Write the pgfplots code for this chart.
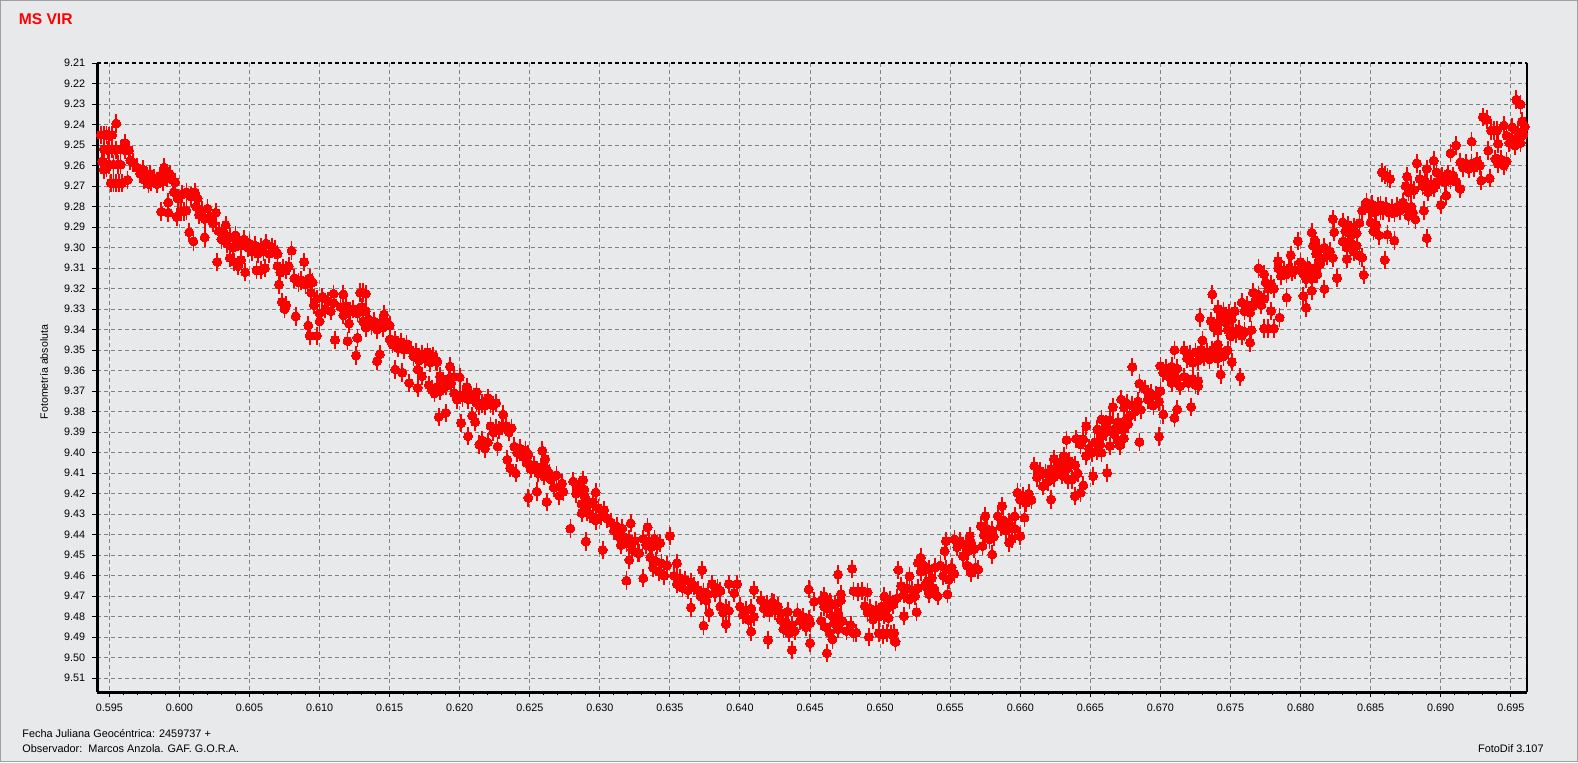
\documentclass[border=0pt]{standalone}
\usepackage{pgfplots}
\pgfplotsset{compat=1.18}
\usepackage{fontspec}
\setmainfont{Liberation Sans}
\definecolor{bgc}{RGB}{232,233,235}
\definecolor{gridc}{RGB}{128,128,128}
\definecolor{framec}{RGB}{160,160,160}
\begin{document}
\begin{tikzpicture}
\fill[bgc] (0pt,0pt) rectangle (789pt,381pt);
\draw[framec, line width=0.6pt] (0.3pt,0.3pt) rectangle (788.7pt,380.7pt);
\node[anchor=west, text=red, font=\fontsize{7.8}{9}\selectfont\bfseries, inner sep=0pt] at (9.2pt,371.4pt) {MS VIR};
\node[rotate=90, font=\fontsize{5.3}{6}\selectfont, inner sep=0pt] at (22pt,195pt) {Fotometría absoluta};
\node[anchor=west, font=\fontsize{5.45}{6}\selectfont, inner sep=0pt] at (11pt,14.3pt) {Fecha Juliana Geocéntrica: 2459737 +};
\node[anchor=west, font=\fontsize{5.45}{6}\selectfont, inner sep=0pt] at (11pt,6.5pt) {Observador:\ \ Marcos Anzola. GAF. G.O.R.A.};
\node[anchor=east, font=\fontsize{5.45}{6}\selectfont, inner sep=0pt] at (772pt,6.5pt) {FotoDif 3.107};
\begin{axis}[
  at={(48.65pt,35pt)}, anchor=south west,
  scale only axis, width=715pt, height=314.5pt,
  xmin=0.59414, xmax=0.69618, ymin=9.21, ymax=9.5167,
  y dir=reverse,
  axis line style={draw=none},
  xtick={0.595,0.600,0.605,0.610,0.615,0.620,0.625,0.630,0.635,0.640,0.645,0.650,0.655,0.660,0.665,0.670,0.675,0.680,0.685,0.690,0.695},
  ytick={9.21,9.22,9.23,9.24,9.25,9.26,9.27,9.28,9.29,9.30,9.31,9.32,9.33,9.34,9.35,9.36,9.37,9.38,9.39,9.40,9.41,9.42,9.43,9.44,9.45,9.46,9.47,9.48,9.49,9.50,9.51},
  minor x tick num=4,
  scaled x ticks=false, scaled y ticks=false,
  xtick pos=lower, ytick pos=left,
  tick align=outside,
  major tick length=2.5pt, minor tick length=1.5pt,
  tick style={black, line width=0.5pt},
  grid=major,
  major grid style={gridc, line width=0.5pt, dash pattern=on 2pt off 1.5pt},
  ticklabel style={font=\fontsize{5.4}{6}\selectfont},
  /pgf/number format/assume math mode=true,
  xticklabel style={/pgf/number format/fixed, /pgf/number format/fixed zerofill, /pgf/number format/precision=3},
  yticklabel style={/pgf/number format/fixed, /pgf/number format/fixed zerofill, /pgf/number format/precision=2},
  clip=false,
]
\addplot[only marks, mark=*, mark size=2.25pt, color=red, mark options={fill=red, draw=red, line width=0pt},
  error bars/.cd, y dir=both, y fixed=0.0045, error mark=none, error bar style={line width=0.9pt, red}]
table {
x y
0.5944 9.245
0.5946 9.245
0.5948 9.245
0.5950 9.2455
0.5952 9.245
0.5955 9.2395
0.5961 9.249
0.5945 9.258
0.5946 9.252
0.5949 9.2525
0.5952 9.252
0.5955 9.2525
0.5958 9.252
0.5961 9.2525
0.5964 9.2525
0.5946 9.262
0.5948 9.261
0.5950 9.2595
0.5953 9.2595
0.5956 9.2595
0.5958 9.2595
0.5951 9.2685
0.5953 9.2685
0.5955 9.2685
0.5957 9.2685
0.5959 9.2685
0.5963 9.267
0.5967 9.2585
0.5965 9.2575
0.5970 9.261
0.5972 9.264
0.5974 9.262
0.5975 9.267
0.5977 9.265
0.5978 9.269
0.5979 9.264
0.5980 9.268
0.5982 9.266
0.5984 9.269
0.5989 9.261
0.5986 9.265
0.5988 9.268
0.5991 9.266
0.5993 9.264
0.5995 9.267
0.5997 9.268
0.5987 9.2825
0.5992 9.278
0.5992 9.283
0.5998 9.285
0.5996 9.273
0.5999 9.276
0.6002 9.274
0.6005 9.273
0.6008 9.275
0.6011 9.273
0.6013 9.276
0.6001 9.2825
0.6003 9.2825
0.6005 9.282
0.6007 9.2925
0.6010 9.297
0.6012 9.280
0.6014 9.284
0.6016 9.282
0.6018 9.286
0.6020 9.281
0.6022 9.285
0.6024 9.288
0.6026 9.283
0.6018 9.295
0.6027 9.307
0.6028 9.292
0.6030 9.296
0.6032 9.293
0.6034 9.298
0.6036 9.295
0.6038 9.300
0.6040 9.294
0.6042 9.297
0.6044 9.299
0.6046 9.296
0.6049 9.300
0.6033 9.289
0.6036 9.305
0.6039 9.307
0.6042 9.309
0.6044 9.306
0.6047 9.312
0.6050 9.298
0.6052 9.302
0.6054 9.299
0.6056 9.303
0.6058 9.300
0.6060 9.302
0.6062 9.298
0.6064 9.303
0.6066 9.300
0.6068 9.301
0.6070 9.303
0.6055 9.311
0.6058 9.311
0.6061 9.310
0.6071 9.318
0.6070 9.309
0.6072 9.312
0.6074 9.310
0.6076 9.311
0.6078 9.309
0.6080 9.3015
0.6073 9.3265
0.6075 9.330
0.6076 9.328
0.6083 9.3335
0.6082 9.315
0.6085 9.317
0.6087 9.316
0.6090 9.318
0.6093 9.315
0.6095 9.317
0.6089 9.307
0.6092 9.338
0.6093 9.343
0.6098 9.343
0.6094 9.322
0.6096 9.328
0.6098 9.325
0.6100 9.332
0.6102 9.324
0.6104 9.330
0.6106 9.326
0.6108 9.331
0.6110 9.327
0.6100 9.336
0.6110 9.3225
0.6111 9.345
0.6117 9.3228
0.6115 9.329
0.6117 9.333
0.6119 9.3285
0.6121 9.337
0.6122 9.331
0.6129 9.322
0.6131 9.322
0.6133 9.3225
0.6124 9.330
0.6127 9.332
0.6130 9.329
0.6133 9.331
0.6120 9.3456
0.6126 9.3526
0.6127 9.344
0.6131 9.336
0.6133 9.339
0.6135 9.335
0.6137 9.338
0.6139 9.336
0.6141 9.340
0.6143 9.337
0.6145 9.339
0.6147 9.336
0.6150 9.338
0.6146 9.3326
0.6141 9.3554
0.6143 9.352
0.6150 9.3448
0.6152 9.347
0.6154 9.345
0.6156 9.349
0.6158 9.346
0.6160 9.3497
0.6162 9.347
0.6154 9.3594
0.6159 9.361
0.6164 9.366
0.6170 9.3684
0.6165 9.350
0.6167 9.353
0.6169 9.351
0.6171 9.355
0.6173 9.352
0.6175 9.354
0.6177 9.351
0.6179 9.356
0.6181 9.353
0.6183 9.355
0.6170 9.3594
0.6173 9.3627
0.6184 9.3557
0.6178 9.367
0.6180 9.369
0.6182 9.371
0.6184 9.368
0.6186 9.370
0.6186 9.3627
0.6188 9.365
0.6190 9.3676
0.6192 9.364
0.6194 9.366
0.6196 9.363
0.6193 9.358
0.6185 9.3826
0.6190 9.3806
0.6200 9.3632
0.6196 9.371
0.6198 9.374
0.6200 9.372
0.6202 9.373
0.6204 9.371
0.6206 9.374
0.6208 9.372
0.6210 9.373
0.6201 9.3855
0.6205 9.3679
0.6206 9.392
0.6212 9.3704
0.6209 9.382
0.6211 9.385
0.6212 9.3757
0.6214 9.377
0.6216 9.376
0.6218 9.377
0.6220 9.3733
0.6222 9.376
0.6224 9.377
0.6226 9.3757
0.6214 9.396
0.6216 9.394
0.6218 9.398
0.6220 9.395
0.6222 9.387
0.6224 9.390
0.6226 9.388
0.6228 9.389
0.6230 9.387
0.6231 9.3814
0.6227 9.397
0.6234 9.4034
0.6233 9.387
0.6235 9.390
0.6237 9.388
0.6236 9.4075
0.6239 9.397
0.6241 9.400
0.6243 9.398
0.6245 9.402
0.6247 9.399
0.6249 9.401
0.6240 9.410
0.6249 9.422
0.6255 9.419
0.6248 9.405
0.6251 9.408
0.6253 9.406
0.6256 9.410
0.6258 9.407
0.6260 9.4115
0.6262 9.408
0.6264 9.410
0.6259 9.399
0.6261 9.403
0.6262 9.424
0.6265 9.413
0.6267 9.417
0.6269 9.411
0.6271 9.421
0.6273 9.415
0.6274 9.419
0.6279 9.437
0.6281 9.414
0.6283 9.420
0.6285 9.417
0.6287 9.425
0.6289 9.421
0.6291 9.429
0.6290 9.4433
0.6288 9.4133
0.6289 9.418
0.6290 9.423
0.6297 9.4194
0.6287 9.4295
0.6291 9.426
0.6293 9.430
0.6295 9.424
0.6297 9.433
0.6299 9.427
0.6301 9.431
0.6303 9.428
0.6305 9.432
0.6302 9.4474
0.6308 9.434
0.6310 9.438
0.6312 9.436
0.6314 9.441
0.6316 9.437
0.6315 9.445
0.6322 9.4344
0.6317 9.441
0.6319 9.444
0.6321 9.442
0.6323 9.447
0.6325 9.443
0.6327 9.449
0.6319 9.4624
0.6321 9.4523
0.6328 9.449
0.6334 9.4363
0.6331 9.442
0.6333 9.445
0.6335 9.443
0.6337 9.446
0.6339 9.442
0.6341 9.445
0.6343 9.444
0.6331 9.4612
0.6336 9.451
0.6338 9.456
0.6340 9.453
0.6342 9.458
0.6344 9.454
0.6346 9.460
0.6348 9.455
0.6350 9.4406
0.6355 9.4539
0.6353 9.460
0.6355 9.464
0.6357 9.461
0.6359 9.466
0.6361 9.462
0.6363 9.467
0.6365 9.463
0.6367 9.465
0.6365 9.4755
0.6370 9.467
0.6372 9.470
0.6374 9.468
0.6376 9.472
0.6377 9.469
0.6373 9.4572
0.6374 9.4843
0.6378 9.478
0.6380 9.464
0.6382 9.4685
0.6384 9.466
0.6386 9.4675
0.6386 9.475
0.6388 9.478
0.6390 9.476
0.6392 9.477
0.6390 9.4835
0.6392 9.464
0.6398 9.464
0.6396 9.4685
0.6400 9.475
0.6402 9.479
0.6404 9.477
0.6406 9.4815
0.6408 9.476
0.6410 9.480
0.6410 9.467
0.6408 9.4872
0.6420 9.4913
0.6415 9.4718
0.6417 9.476
0.6419 9.474
0.6421 9.478
0.6423 9.473
0.6425 9.477
0.6427 9.475
0.6429 9.478
0.6424 9.4734
0.6429 9.4815
0.6431 9.486
0.6433 9.483
0.6435 9.488
0.6437 9.484
0.6439 9.487
0.6437 9.4962
0.6434 9.4775
0.6441 9.478
0.6443 9.482
0.6445 9.480
0.6447 9.485
0.6449 9.481
0.6450 9.483
0.6449 9.4666
0.6453 9.4726
0.6450 9.4929
0.6458 9.472
0.6460 9.475
0.6462 9.473
0.6465 9.474
0.6462 9.4978
0.6466 9.491
0.6470 9.4594
0.6480 9.4566
0.6460 9.470
0.6462 9.476
0.6464 9.473
0.6466 9.4797
0.6468 9.474
0.6470 9.478
0.6472 9.472
0.6458 9.482
0.6461 9.485
0.6464 9.488
0.6467 9.483
0.6470 9.486
0.6473 9.482
0.6476 9.487
0.6479 9.484
0.6481 9.488
0.6472 9.469
0.6481 9.4675
0.6484 9.468
0.6487 9.4675
0.6491 9.468
0.6483 9.4878
0.6492 9.4898
0.6489 9.4748
0.6491 9.478
0.6493 9.476
0.6495 9.4813
0.6497 9.477
0.6499 9.480
0.6501 9.475
0.6503 9.479
0.6505 9.476
0.6499 9.488
0.6502 9.4886
0.6505 9.488
0.6508 9.4886
0.6510 9.488
0.6511 9.4922
0.6506 9.4805
0.6503 9.470
0.6505 9.4748
0.6507 9.472
0.6509 9.474
0.6512 9.471
0.6513 9.4572
0.6515 9.465
0.6517 9.469
0.6519 9.466
0.6521 9.4715
0.6523 9.467
0.6525 9.470
0.6527 9.466
0.6521 9.4602
0.6517 9.4797
0.6526 9.4777
0.6529 9.4512
0.6527 9.4537
0.6529 9.458
0.6531 9.455
0.6533 9.4634
0.6535 9.457
0.6537 9.461
0.6539 9.456
0.6532 9.465
0.6535 9.469
0.6538 9.466
0.6541 9.470
0.6547 9.4431
0.6546 9.448
0.6548 9.469
0.6543 9.455
0.6545 9.460
0.6547 9.457
0.6549 9.462
0.6551 9.456
0.6553 9.459
0.6553 9.4423
0.6555 9.446
0.6557 9.443
0.6559 9.4504
0.6561 9.445
0.6563 9.448
0.6565 9.444
0.6567 9.447
0.6562 9.455
0.6565 9.4585
0.6568 9.456
0.6570 9.457
0.6564 9.4407
0.6572 9.4358
0.6574 9.440
0.6576 9.437
0.6578 9.4423
0.6580 9.438
0.6581 9.441
0.6573 9.4455
0.6575 9.4309
0.6580 9.4496
0.6587 9.426
0.6584 9.431
0.6586 9.436
0.6588 9.433
0.6590 9.438
0.6592 9.434
0.6594 9.442
0.6596 9.437
0.6592 9.4439
0.6596 9.431
0.6598 9.4195
0.6600 9.423
0.6602 9.421
0.6604 9.4245
0.6606 9.420
0.6608 9.423
0.6600 9.4407
0.6603 9.4317
0.6610 9.4065
0.6612 9.412
0.6614 9.409
0.6616 9.4163
0.6618 9.410
0.6620 9.414
0.6622 9.408
0.6624 9.412
0.6622 9.4228
0.6624 9.403
0.6626 9.408
0.6628 9.405
0.6630 9.411
0.6632 9.406
0.6634 9.413
0.6633 9.3938
0.6639 9.4211
0.6643 9.4195
0.6645 9.4159
0.6631 9.4016
0.6633 9.408
0.6635 9.404
0.6637 9.413
0.6639 9.406
0.6641 9.410
0.6652 9.4114
0.6662 9.4098
0.6640 9.3932
0.6647 9.387
0.6643 9.396
0.6645 9.3935
0.6647 9.4016
0.6649 9.398
0.6651 9.400
0.6653 9.395
0.6655 9.399
0.6657 9.396
0.6658 9.400
0.6655 9.3886
0.6658 9.392
0.6661 9.390
0.6664 9.3967
0.6667 9.391
0.6670 9.394
0.6673 9.389
0.6674 9.393
0.6658 9.3837
0.6661 9.386
0.6664 9.384
0.6667 9.3886
0.6670 9.385
0.6673 9.387
0.6676 9.384
0.6677 9.386
0.6671 9.3964
0.6680 9.3582
0.6685 9.3948
0.6666 9.3777
0.6672 9.374
0.6674 9.378
0.6676 9.376
0.6678 9.382
0.6680 9.377
0.6682 9.380
0.6684 9.375
0.6686 9.379
0.6685 9.3663
0.6689 9.369
0.6691 9.374
0.6693 9.371
0.6695 9.377
0.6697 9.372
0.6699 9.375
0.6700 9.370
0.6699 9.3922
0.6702 9.3813
0.6710 9.383
0.6712 9.3789
0.6700 9.3577
0.6702 9.361
0.6704 9.359
0.6706 9.3626
0.6708 9.358
0.6710 9.361
0.6712 9.359
0.6705 9.3626
0.6708 9.366
0.6711 9.364
0.6714 9.3675
0.6717 9.363
0.6720 9.366
0.6723 9.364
0.6725 9.367
0.6727 9.365
0.6722 9.3777
0.6710 9.350
0.6717 9.350
0.6719 9.354
0.6721 9.352
0.6723 9.3561
0.6725 9.351
0.6727 9.355
0.6727 9.3675
0.6729 9.350
0.6731 9.353
0.6733 9.351
0.6735 9.3545
0.6737 9.350
0.6739 9.352
0.6741 9.354
0.6743 9.351
0.6745 9.353
0.6748 9.350
0.6730 9.3452
0.6728 9.3341
0.6737 9.3228
0.6736 9.3358
0.6738 9.339
0.6740 9.337
0.6741 9.3406
0.6741 9.3472
0.6743 9.3618
0.6741 9.330
0.6743 9.334
0.6745 9.331
0.6747 9.3366
0.6749 9.332
0.6751 9.335
0.6753 9.331
0.6751 9.3558
0.6757 9.3631
0.6748 9.340
0.6750 9.343
0.6752 9.341
0.6754 9.342
0.6756 9.340
0.6758 9.343
0.6760 9.341
0.6758 9.3268
0.6760 9.331
0.6762 9.328
0.6764 9.3317
0.6765 9.329
0.6764 9.3463
0.6765 9.3402
0.6766 9.322
0.6768 9.326
0.6770 9.323
0.6772 9.328
0.6774 9.325
0.6770 9.3101
0.6774 9.313
0.6775 9.317
0.6777 9.320
0.6779 9.318
0.6781 9.320
0.6779 9.3309
0.6774 9.3395
0.6777 9.3395
0.6781 9.3395
0.6785 9.3341
0.6784 9.310
0.6786 9.3138
0.6788 9.311
0.6790 9.313
0.6792 9.310
0.6794 9.312
0.6796 9.311
0.6784 9.3065
0.6790 9.3244
0.6793 9.3037
0.6798 9.2968
0.6800 9.310
0.6802 9.313
0.6804 9.3154
0.6806 9.311
0.6808 9.314
0.6802 9.3236
0.6804 9.3293
0.6808 9.2927
0.6808 9.321
0.6817 9.3202
0.6800 9.307
0.6805 9.309
0.6808 9.3153
0.6810 9.310
0.6812 9.313
0.6814 9.308
0.6809 9.299
0.6811 9.303
0.6813 9.301
0.6815 9.3055
0.6817 9.300
0.6819 9.304
0.6821 9.302
0.6823 9.305
0.6810 9.2963
0.6826 9.3148
0.6845 9.3133
0.6823 9.286
0.6824 9.2925
0.6830 9.2877
0.6832 9.292
0.6834 9.289
0.6836 9.2941
0.6838 9.290
0.6840 9.293
0.6842 9.288
0.6833 9.3055
0.6830 9.297
0.6833 9.300
0.6836 9.298
0.6838 9.302
0.6840 9.299
0.6842 9.304
0.6844 9.3049
0.6844 9.282
0.6847 9.278
0.6849 9.281
0.6851 9.279
0.6853 9.2828
0.6855 9.280
0.6857 9.282
0.6850 9.2877
0.6852 9.292
0.6854 9.289
0.6856 9.294
0.6860 9.306
0.6862 9.2937
0.6867 9.2966
0.6858 9.2633
0.6860 9.2645
0.6862 9.2655
0.6864 9.2665
0.6857 9.2795
0.6859 9.282
0.6861 9.280
0.6863 9.2828
0.6865 9.281
0.6867 9.283
0.6869 9.280
0.6871 9.282
0.6873 9.278
0.6875 9.281
0.6877 9.2845
0.6879 9.280
0.6880 9.283
0.6876 9.2654
0.6875 9.270
0.6877 9.273
0.6879 9.271
0.6881 9.272
0.6883 9.2589
0.6882 9.2863
0.6890 9.2954
0.6888 9.282
0.6885 9.2665
0.6887 9.270
0.6889 9.268
0.6891 9.273
0.6893 9.269
0.6895 9.271
0.6897 9.268
0.6890 9.2616
0.6895 9.2576
0.6900 9.2792
0.6897 9.2633
0.6899 9.267
0.6901 9.265
0.6903 9.2681
0.6905 9.264
0.6907 9.267
0.6909 9.265
0.6911 9.268
0.6904 9.2746
0.6907 9.254
0.6911 9.2502
0.6914 9.2714
0.6914 9.2584
0.6916 9.261
0.6918 9.259
0.6920 9.2616
0.6922 9.259
0.6924 9.261
0.6926 9.258
0.6928 9.260
0.6922 9.2483
0.6929 9.2673
0.6935 9.2662
0.6934 9.2527
0.6930 9.2364
0.6933 9.2376
0.6936 9.2429
0.6938 9.243
0.6940 9.2429
0.6939 9.2567
0.6941 9.259
0.6943 9.257
0.6945 9.260
0.6947 9.258
0.6941 9.2494
0.6945 9.2405
0.6947 9.2454
0.6949 9.249
0.6951 9.247
0.6953 9.2502
0.6955 9.246
0.6957 9.249
0.6951 9.2413
0.6954 9.2278
0.6957 9.2302
0.6958 9.2385
0.6955 9.2437
0.6959 9.245
0.6960 9.241
};
\draw[black, line width=1.5pt] (axis description cs:0,0) -- (axis description cs:0,1);
\draw[black, line width=1.5pt] (axis description cs:0,0) -- (axis description cs:1,0);
\draw[black, line width=0.9pt] (axis description cs:1,0) -- (axis description cs:1,1);
\draw[black, line width=0.6pt, dash pattern=on 2pt off 1.5pt] (axis description cs:0,1) -- (axis description cs:1,1);
\end{axis}
\end{tikzpicture}
\end{document}
